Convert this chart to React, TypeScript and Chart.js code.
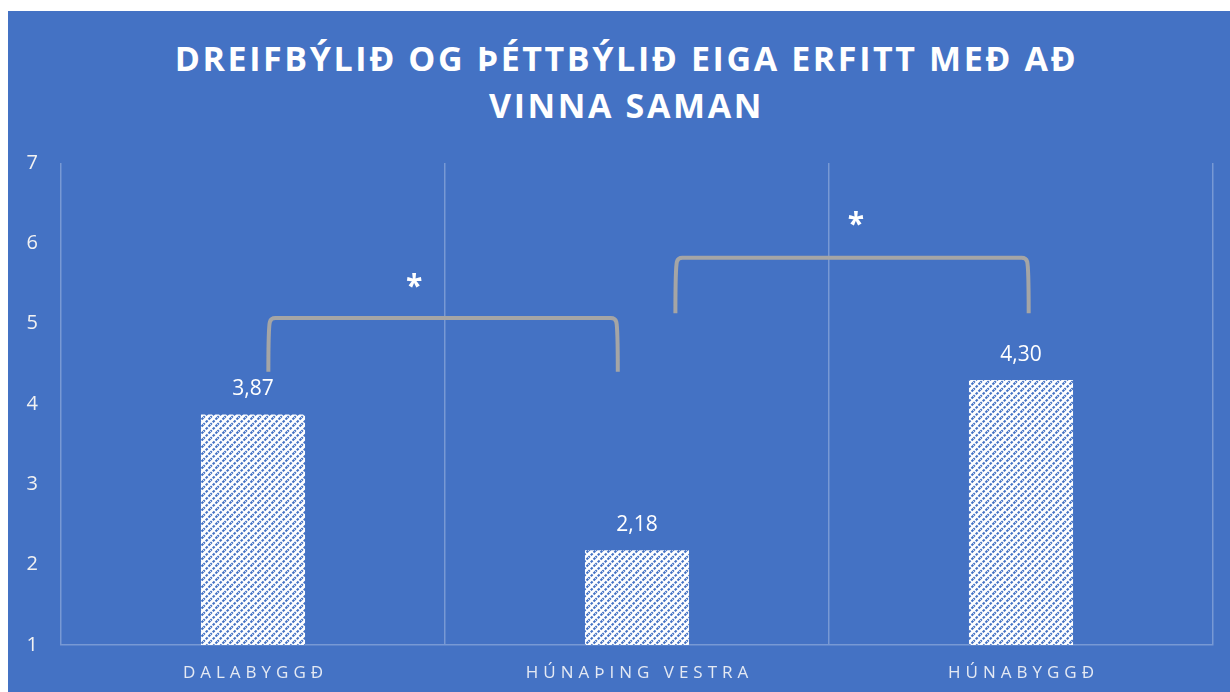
import React, { useEffect, useRef } from "react";
import { Chart, registerables } from "chart.js";

Chart.register(...registerables);

const titleLines = ["DREIFBÝLIÐ OG ÞÉTTBÝLIÐ EIGA ERFITT MEÐ AÐ", "VINNA SAMAN"];
const categories = ["DALABYGGÐ", "HÚNAÞING VESTRA", "HÚNABYGGÐ"];
const values = [3.87, 2.18, 4.3];
const yMin = 1;
const yMax = 7;
const yStep = 1;

// significance brackets (x in category units, y in value units)
const bracketFrom = [0.04, 1.1];
const bracketTo = [0.95, 2.02];
const bracketTop = [5.07, 5.82];
const bracketBottom = [4.4, 5.13];
const starX = [0.42, 1.57];
const starY = [5.52, 6.3];
const starText = ["*", "*"];

const BG = "#4472C4";
const FONT = "'Open Sans', 'DejaVu Sans', sans-serif";

function makePattern(): CanvasPattern | string {
  const c = document.createElement("canvas");
  const s = 7;
  c.width = s;
  c.height = s;
  const g = c.getContext("2d");
  if (!g) return "#fff";
  g.fillStyle = "#ffffff";
  g.fillRect(0, 0, s, s);
  g.strokeStyle = BG;
  g.lineWidth = 2.1;
  g.setLineDash([2.6, 1.3]);
  g.beginPath();
  g.moveTo(-1, s + 1);
  g.lineTo(s + 1, -1);
  g.stroke();
  g.setLineDash([]);
  g.beginPath();
  g.moveTo(-1, 1);
  g.lineTo(1, -1);
  g.moveTo(s - 1, s + 1);
  g.lineTo(s + 1, s - 1);
  g.stroke();
  const p = g.createPattern(c, "repeat");
  return p || "#fff";
}

const overlayPlugin = {
  id: "overlay",
  afterDatasetsDraw(chart: any) {
    const { ctx } = chart;
    const x = chart.scales.x;
    const y = chart.scales.y;
    ctx.save();
    // value labels
    ctx.fillStyle = "#ffffff";
    ctx.font = `21px ${FONT}`;
    ctx.textAlign = "center";
    ctx.textBaseline = "middle";
    const meta = chart.getDatasetMeta(0);
    meta.data.forEach((bar: any, i: number) => {
      ctx.fillText(values[i].toFixed(2).replace(".", ","), bar.x, bar.y - 25);
    });
    // brackets
    ctx.strokeStyle = "#A5A5A5";
    ctx.lineWidth = 4;
    ctx.lineCap = "butt";
    ctx.lineJoin = "round";
    for (let i = 0; i < bracketFrom.length; i++) {
      const x1 = x.getPixelForValue(bracketFrom[i]);
      const x2 = x.getPixelForValue(bracketTo[i]);
      const yt = y.getPixelForValue(bracketTop[i]);
      const yb = y.getPixelForValue(bracketBottom[i]);
      ctx.beginPath();
      ctx.moveTo(x1, yb);
      ctx.quadraticCurveTo(x1, yt + 10, x1 + 1.5, yt + 4);
      ctx.quadraticCurveTo(x1 + 2.5, yt, x1 + 7, yt);
      ctx.lineTo(x2 - 7, yt);
      ctx.quadraticCurveTo(x2 - 2.5, yt, x2 - 1.5, yt + 4);
      ctx.quadraticCurveTo(x2, yt + 10, x2, yb);
      ctx.stroke();
    }
    // stars
    ctx.fillStyle = "#ffffff";
    ctx.font = `bold 30px ${FONT}`;
    ctx.textAlign = "center";
    ctx.textBaseline = "middle";
    for (let i = 0; i < starX.length; i++) {
      ctx.fillText(starText[i], x.getPixelForValue(starX[i]), y.getPixelForValue(starY[i]) + 6);
    }
    // category labels with letter spacing
    ctx.fillStyle = "#E4E9F3";
    ctx.font = `17px ${FONT}`;
    (ctx as any).letterSpacing = "5px";
    ctx.textAlign = "center";
    ctx.textBaseline = "middle";
    categories.forEach((c, i) => {
      ctx.fillText(c, x.getPixelForValue(i) + 2.5, chart.chartArea.bottom + 28);
    });
    (ctx as any).letterSpacing = "0px";
    ctx.restore();
  },
};

function App() {
  const ref = useRef<HTMLCanvasElement | null>(null);
  useEffect(() => {
    if (!ref.current) return;
    const pattern = makePattern();
    const chart = new Chart(ref.current, {
      type: "bar",
      data: {
        labels: categories,
        datasets: [
          {
            data: values,
            backgroundColor: pattern as any,
            borderWidth: 0,
            categoryPercentage: 1,
            barPercentage: 0.271,
          },
        ],
      },
      options: {
        responsive: false,
        animation: false,
        devicePixelRatio: 1,
        layout: { padding: { top: 152, right: 17, left: 0, bottom: 0 } },
        plugins: {
          legend: { display: false },
          title: { display: false },
          tooltip: { enabled: false },
        },
        scales: {
          x: {
            type: "category",
            offset: true,
            grid: {
              display: true,
              offset: true,
              color: "rgba(255,255,255,0.28)",
              lineWidth: 1.5,
              drawTicks: false,
            },
            border: { display: true, color: "rgba(255,255,255,0.28)", width: 1.5 },
            ticks: { display: false },
            afterFit(scale: any) {
              scale.height = 47;
            },
          },
          y: {
            min: yMin,
            max: yMax,
            grid: { display: false, drawTicks: false },
            border: { display: false },
            ticks: {
              stepSize: yStep,
              color: "#F2F2F2",
              font: { family: FONT, size: 20 },
              padding: 23,
            },
            afterFit(scale: any) {
              scale.width = 53;
            },
          },
        },
      },
      plugins: [overlayPlugin],
    });
    return () => chart.destroy();
  }, []);

  return (
    <div
      style={{
        position: "fixed",
        left: 8,
        top: 11,
        width: 1222,
        height: 681,
        background: BG,
        overflow: "hidden",
      }}
    >
      <div
        style={{
          position: "absolute",
          left: 0,
          right: 0,
          top: 24,
          textAlign: "center",
          color: "#ffffff",
          fontFamily: FONT,
          fontWeight: 700,
          fontSize: 34,
          lineHeight: "47px",
          letterSpacing: "2.6px",
          paddingLeft: 15,
        }}
      >
        {titleLines.map((l, i) => (
          <div key={i}>{l}</div>
        ))}
      </div>
      <canvas ref={ref} width={1222} height={681} style={{ position: "absolute", left: 0, top: 0 }} />
    </div>
  );
}

export default App;
